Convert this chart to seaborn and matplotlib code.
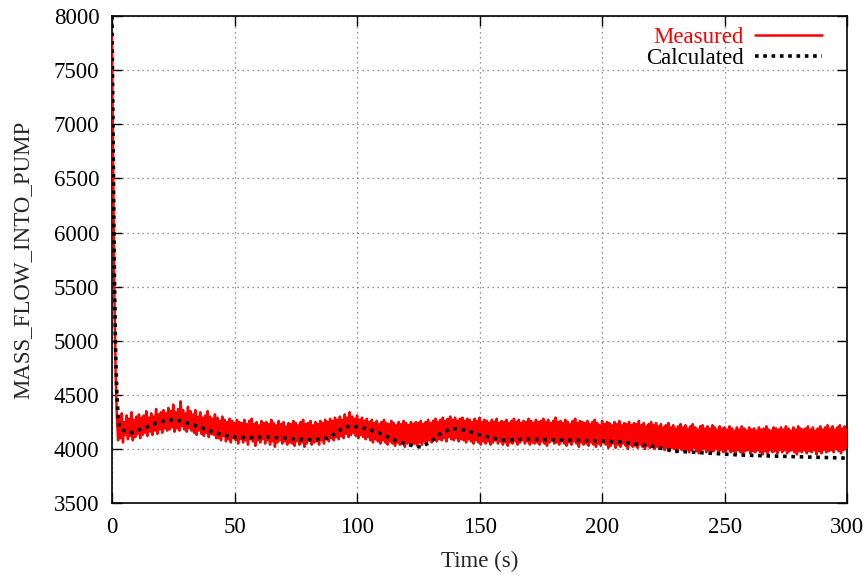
import numpy as np
import pandas as pd
import matplotlib
matplotlib.use("Agg")
import matplotlib.pyplot as plt
import seaborn as sns

# --- Measured pump inflow: start-up transient, then upper/lower swings per second ---
meas_head_t = [0.0, 0.5, 1.0, 1.5, 2.0, 2.5]
meas_head_v = [7800, 6600, 5400, 4700, 4300, 4080]

# samples of the noisy signal, highs at t = 3, 4, ..., 300
meas_hi = [
    4290, 4330, 4250, 4310, 4280, 4340, 4270, 4300, 4320, 4290,
    4310, 4350, 4290, 4330, 4300, 4370, 4320, 4340, 4360, 4330,
    4380, 4350, 4410, 4340, 4370, 4440, 4360, 4330, 4390, 4350,
    4320, 4360, 4300, 4340, 4290, 4310, 4350, 4300, 4280, 4320,
    4290, 4260, 4300, 4270, 4250, 4280, 4260, 4240, 4270, 4250,
    4240, 4270, 4230, 4260, 4280, 4230, 4250, 4220, 4260, 4240,
    4250, 4230, 4270, 4240, 4220, 4260, 4230, 4250, 4210, 4240,
    4230, 4260, 4240, 4220, 4250, 4270, 4230, 4240, 4260, 4220,
    4250, 4230, 4260, 4240, 4270, 4250, 4280, 4260, 4290, 4270,
    4300, 4270, 4320, 4290, 4340, 4300, 4280, 4310, 4270, 4290,
    4260, 4280, 4250, 4270, 4240, 4260, 4230, 4250, 4270, 4240,
    4230, 4260, 4240, 4220, 4250, 4230, 4260, 4240, 4220, 4250,
    4230, 4250, 4240, 4260, 4230, 4250, 4270, 4240, 4260, 4280,
    4250, 4270, 4290, 4260, 4280, 4300, 4270, 4290, 4260, 4280,
    4290, 4260, 4280, 4270, 4250, 4280, 4260, 4290, 4250, 4270,
    4260, 4240, 4270, 4250, 4280, 4240, 4260, 4250, 4270, 4240,
    4260, 4280, 4250, 4270, 4240, 4260, 4250, 4280, 4260, 4240,
    4270, 4250, 4260, 4280, 4250, 4270, 4240, 4260, 4290, 4250,
    4260, 4240, 4270, 4250, 4230, 4260, 4280, 4240, 4260, 4250,
    4240, 4260, 4230, 4250, 4270, 4240, 4220, 4260, 4230, 4250,
    4240, 4220, 4250, 4230, 4260, 4220, 4240, 4230, 4250, 4220,
    4240, 4230, 4260, 4220, 4240, 4210, 4230, 4250, 4220, 4240,
    4210, 4230, 4200, 4220, 4240, 4200, 4220, 4190, 4210, 4230,
    4200, 4220, 4190, 4210, 4230, 4200, 4180, 4210, 4220, 4190,
    4210, 4190, 4220, 4200, 4180, 4210, 4190, 4200, 4180, 4210,
    4190, 4170, 4200, 4180, 4210, 4190, 4170, 4200, 4180, 4190,
    4170, 4200, 4180, 4190, 4210, 4180, 4170, 4200, 4190, 4180,
    4200, 4180, 4210, 4190, 4170, 4200, 4180, 4210, 4190, 4180,
    4190, 4210, 4180, 4200, 4170, 4190, 4210, 4180, 4200, 4220,
    4190, 4210, 4180, 4200, 4220, 4190, 4210, 4180,
]
# lows at t = 3.5, 4.5, ..., 300.5
meas_lo = [
    4100, 4060, 4130, 4090, 4120, 4080, 4110, 4140, 4100, 4130,
    4150, 4120, 4160, 4130, 4170, 4140, 4180, 4150, 4190, 4170,
    4180, 4200, 4160, 4190, 4170, 4210, 4180, 4160, 4190, 4170,
    4150, 4130, 4170, 4140, 4120, 4150, 4110, 4140, 4130, 4100,
    4100, 4080, 4120, 4070, 4090, 4060, 4100, 4080, 4050, 4090,
    4060, 4080, 4040, 4090, 4070, 4030, 4080, 4060, 4090, 4050,
    4080, 4040, 4070, 4020, 4060, 4080, 4050, 4070, 4040, 4060,
    4050, 4030, 4070, 4040, 4060, 4020, 4050, 4080, 4040, 4060,
    4070, 4040, 4080, 4050, 4090, 4070, 4100, 4080, 4110, 4090,
    4120, 4100, 4140, 4110, 4130, 4150, 4120, 4100, 4130, 4110,
    4090, 4110, 4080, 4060, 4090, 4070, 4050, 4080, 4060, 4040,
    4070, 4050, 4030, 4060, 4040, 4070, 4020, 4050, 4060, 4040,
    4050, 4030, 4060, 4040, 4070, 4050, 4080, 4060, 4090, 4070,
    4090, 4080, 4100, 4070, 4110, 4090, 4080, 4100, 4070, 4090,
    4080, 4060, 4090, 4070, 4050, 4080, 4060, 4040, 4070, 4050,
    4070, 4040, 4060, 4080, 4050, 4070, 4040, 4060, 4030, 4060,
    4050, 4070, 4040, 4060, 4080, 4050, 4070, 4040, 4060, 4050,
    4060, 4040, 4070, 4050, 4030, 4060, 4080, 4050, 4060, 4040,
    4070, 4050, 4030, 4060, 4040, 4070, 4050, 4020, 4060, 4040,
    4050, 4030, 4060, 4040, 4020, 4050, 4030, 4060, 4040, 4010,
    4030, 4050, 4010, 4040, 4020, 4050, 4030, 4000, 4040, 4020,
    4030, 4010, 4040, 4020, 4000, 4030, 4010, 4040, 4000, 4020,
    4000, 4020, 3990, 4010, 3980, 4010, 4000, 3970, 4010, 3990,
    3980, 4000, 3970, 3990, 4010, 3980, 3960, 3990, 4000, 3970,
    3990, 3970, 3980, 4000, 3960, 3990, 3970, 3980, 4000, 3970,
    3980, 3960, 3990, 3970, 3950, 3980, 3990, 3960, 3980, 3970,
    3990, 3970, 3950, 3980, 3960, 3990, 3970, 3980, 3960, 3990,
    3970, 3990, 3960, 3980, 3990, 3970, 3950, 3980, 3970, 3990,
    3960, 3980, 3970, 3990, 3950, 3980, 3960, 3990, 3970, 3980,
    3990, 3970, 4000, 3980, 3960, 3990, 4010, 3980,
]

# --- Calculated pump inflow ---
calc_t = [0, 0.5, 1, 1.5, 2, 2.5, 3, 4, 6, 8, 10, 14, 18, 22, 26, 30, 36, 42,
          49, 56, 63, 70, 76, 82, 88, 93, 97, 102, 109, 117, 122, 126, 130,
          134, 138, 142, 146, 150, 155, 160, 170, 180, 190, 198, 208, 214,
          220, 229, 236, 243, 256, 270, 284, 298, 300]
calc_v = [8000, 6800, 5600, 4900, 4500, 4300, 4200, 4180, 4160, 4150, 4170,
          4200, 4240, 4265, 4270, 4245, 4200, 4150, 4110, 4105, 4110, 4100,
          4090, 4083, 4100, 4175, 4213, 4200, 4150, 4065, 4035, 4018, 4065,
          4140, 4185, 4185, 4160, 4130, 4100, 4083, 4092, 4085, 4080, 4074,
          4065, 4045, 4028, 3982, 3972, 3963, 3945, 3935, 3926, 3917, 3915]

x_ticks = [0, 50, 100, 150, 200, 250, 300]
y_ticks = [3500, 4000, 4500, 5000, 5500, 6000, 6500, 7000, 7500, 8000]

# interleave highs and lows into one time series
sec = np.arange(3, 3 + len(meas_hi))
t_body = np.empty(2 * len(sec))
v_body = np.empty(2 * len(sec))
t_body[0::2], t_body[1::2] = sec, sec + 0.5
v_body[0::2], v_body[1::2] = meas_hi, meas_lo
measured = pd.DataFrame({"t": np.concatenate([meas_head_t, t_body]),
                         "v": np.concatenate([meas_head_v, v_body])})
calculated = pd.DataFrame({"t": calc_t, "v": calc_v})

sns.set_style("ticks")
plt.rcParams["font.family"] = ["Liberation Serif", "DejaVu Serif"]
FS = 16.5
plt.rcParams["font.size"] = FS

fig = plt.figure(figsize=(8.68, 5.75), dpi=100)
ax = fig.add_axes([0.129, 0.125, 0.847, 0.847])

sns.lineplot(data=measured, x="t", y="v", ax=ax, color="#ff0000", lw=1.8,
             estimator=None, sort=False, label="Measured", zorder=3)
sns.lineplot(data=calculated, x="t", y="v", ax=ax, color="black", lw=2.6,
             estimator=None, sort=False, label="Calculated", zorder=4)
ax.lines[1].set_linestyle((0, (1.0, 1.3)))

ax.set_xlim(0, 300)
ax.set_ylim(3500, 8000)
ax.set_xticks(x_ticks)
ax.set_yticks(y_ticks)
ax.set_xticklabels([str(v) for v in x_ticks])
ax.set_yticklabels([str(v) for v in y_ticks])
ax.set_xlabel("Time (s)", fontsize=FS, labelpad=9)
ax.set_ylabel("MASS_FLOW_INTO_PUMP", fontsize=FS, labelpad=15)

ax.grid(True, color="#707070", linestyle=(0, (1, 3)), linewidth=0.9, zorder=0)
ax.set_axisbelow(True)
ax.tick_params(axis="both", direction="in", length=7, width=1, top=True,
               right=True, labelsize=FS, colors="black")
ax.tick_params(axis="x", pad=10)
ax.tick_params(axis="y", pad=9)
for s in ax.spines.values():
    s.set_visible(True)
    s.set_linewidth(1.2)
    s.set_color("black")

leg = ax.legend(loc="upper right", bbox_to_anchor=(0.9714, 0.987),
                frameon=False, markerfirst=False,
                handlelength=2.9, handletextpad=0.5, labelspacing=0.0,
                borderaxespad=0.0, borderpad=0.2, fontsize=FS)
leg.get_texts()[0].set_color("#ff0000")
leg.get_texts()[1].set_color("black")

fig.savefig("out.png", dpi=100)
